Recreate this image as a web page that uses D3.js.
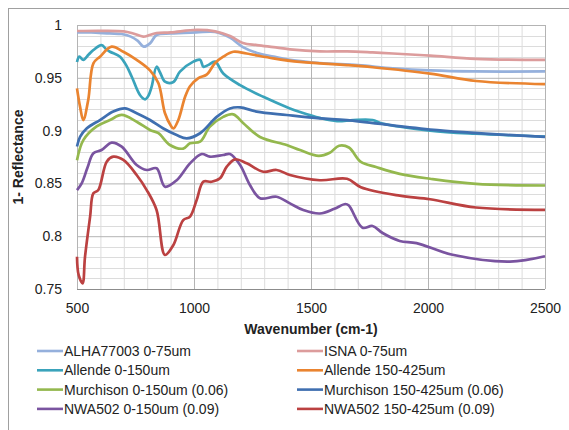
<!DOCTYPE html>
<html>
<head>
<meta charset="utf-8">
<script src="https://cdn.jsdelivr.net/npm/d3@7"></script>
<style>
  body { margin: 0; background: #fff; }
  svg { display: block; font-family: "Liberation Sans", Arial, sans-serif; }
</style>
</head>
<body>
<div id="chart"></div>
<script>
// Reflectance spectra, [wavenumber, 1 - reflectance]
const alha77003 = [[500,0.993],[560,0.993],[640,0.992],[690,0.9915],[730,0.989],[760,0.985],[785,0.9795],[812,0.9826],[840,0.9905],[900,0.992],[1010,0.993],[1090,0.9935],[1154,0.988],[1209,0.979],[1269,0.9735],[1340,0.970],[1410,0.967],[1538,0.964],[1700,0.962],[1850,0.959],[2009,0.957],[2200,0.956],[2500,0.956]];
const isna = [[500,0.9943],[600,0.9945],[700,0.994],[740,0.992],[783,0.989],[810,0.9905],[840,0.9924],[900,0.993],[1011,0.9953],[1090,0.994],[1154,0.9896],[1209,0.983],[1269,0.981],[1340,0.979],[1410,0.977],[1538,0.975],[1654,0.975],[1763,0.974],[1850,0.973],[2009,0.971],[2205,0.968],[2500,0.967]];
const allende0150 = [[500,0.965],[510,0.970],[527,0.967],[550,0.972],[570,0.9763],[605,0.981],[625,0.977],[641,0.9747],[684,0.970],[710,0.962],[734,0.951],[769,0.9337],[791,0.9296],[805,0.933],[819,0.9416],[840,0.9605],[855,0.955],[876,0.9463],[912,0.946],[940,0.9558],[997,0.9653],[1026,0.967],[1040,0.9605],[1060,0.962],[1090,0.9653],[1125,0.954],[1197,0.943],[1296,0.932],[1410,0.921],[1453,0.9176],[1538,0.912],[1611,0.909],[1680,0.910],[1763,0.910],[1800,0.907],[2009,0.900],[2200,0.897],[2500,0.8944]];
const allende150425 = [[500,0.940],[513,0.9227],[527,0.910],[548,0.929],[570,0.9637],[598,0.970],[648,0.9795],[698,0.9747],[755,0.967],[812,0.957],[848,0.9448],[876,0.9164],[900,0.905],[912,0.902],[933,0.910],[962,0.932],[983,0.942],[1019,0.9498],[1054,0.953],[1090,0.964],[1125,0.970],[1168,0.9747],[1225,0.973],[1339,0.9684],[1453,0.965],[1538,0.9637],[1654,0.962],[1763,0.960],[2009,0.954],[2205,0.947],[2500,0.944]];
const murchison0150 = [[500,0.872],[527,0.891],[584,0.904],[641,0.910],[691,0.9148],[755,0.9084],[812,0.9006],[848,0.8975],[897,0.8864],[954,0.883],[983,0.888],[1026,0.8895],[1068,0.9037],[1125,0.913],[1168,0.9154],[1211,0.907],[1282,0.894],[1396,0.8864],[1453,0.8816],[1533,0.876],[1580,0.879],[1620,0.8857],[1662,0.884],[1713,0.8704],[1778,0.8655],[1879,0.859],[2009,0.8544],[2205,0.8495],[2500,0.848]];
const murchison150425 = [[500,0.885],[513,0.894],[541,0.902],[598,0.910],[655,0.918],[705,0.921],[755,0.9164],[812,0.910],[869,0.902],[926,0.8958],[969,0.8927],[1026,0.8975],[1097,0.913],[1154,0.921],[1197,0.922],[1268,0.918],[1396,0.9148],[1538,0.9116],[1654,0.910],[2009,0.901],[2500,0.894]];
const nwa5020150 = [[500,0.8437],[520,0.850],[545,0.865],[570,0.8785],[605,0.8816],[648,0.8886],[691,0.8848],[755,0.8674],[798,0.8627],[840,0.8643],[876,0.8469],[926,0.853],[983,0.869],[1033,0.8778],[1068,0.8753],[1125,0.8769],[1154,0.8778],[1197,0.8674],[1239,0.8485],[1282,0.8359],[1353,0.8374],[1410,0.8311],[1467,0.8248],[1538,0.8215],[1600,0.826],[1647,0.8305],[1662,0.829],[1720,0.808],[1763,0.8097],[1806,0.803],[1879,0.7955],[1951,0.7935],[2105,0.7824],[2350,0.776],[2500,0.781]];
const nwa502150425 = [[500,0.7806],[507,0.7633],[524,0.7554],[534,0.780],[556,0.8185],[570,0.8406],[591,0.8437],[627,0.8706],[655,0.8753],[698,0.8722],[755,0.858],[798,0.8437],[840,0.8248],[876,0.7822],[912,0.7917],[954,0.8153],[983,0.8185],[1011,0.834],[1040,0.8516],[1075,0.8516],[1111,0.8548],[1140,0.8658],[1175,0.8728],[1225,0.869],[1296,0.861],[1353,0.8627],[1410,0.858],[1538,0.853],[1654,0.8544],[1713,0.8464],[1879,0.8384],[2009,0.835],[2205,0.8272],[2500,0.825]];

const seriesNames = ['ALHA77003 0-75um', 'ISNA 0-75um', 'Allende 0-150um', 'Allende 150-425um',
  'Murchison 0-150um (0.06)', 'Murchison 150-425um (0.06)', 'NWA502 0-150um (0.09)', 'NWA502 150-425um (0.09)'];
const seriesData = [alha77003, isna, allende0150, allende150425, murchison0150, murchison150425, nwa5020150, nwa502150425];
const seriesColors = ['#95b0dc', '#dc9c9c', '#3aa3bb', '#ea8430', '#94b84e', '#3f6fb0', '#7a54a0', '#bb4141'];

const xTicks = [500, 1000, 1500, 2000, 2500];
const yTicks = [0.75, 0.8, 0.85, 0.9, 0.95, 1];

const width = 569, height = 430;
const margin = {top: 25, right: 24, bottom: 141, left: 77};
const plotW = width - margin.left - margin.right;
const plotH = height - margin.top - margin.bottom;

const svg = d3.select('#chart').append('svg')
    .attr('width', width)
    .attr('height', height);

// outer chart frame
svg.append('rect')
    .attr('x', 8.5).attr('y', 8.5)
    .attr('width', 600).attr('height', 500)
    .attr('fill', 'none')
    .attr('stroke', '#a0a0a0');

const g = svg.append('g')
    .attr('transform', `translate(${margin.left}, ${margin.top})`);

const x = d3.scaleLinear().domain([500, 2500]).range([0, plotW]);
const y = d3.scaleLinear().domain([0.75, 1]).range([plotH, 0]);

// minor grid
g.append('g')
    .selectAll('line')
    .data(d3.range(600, 2500, 100).filter(d => d % 500 !== 0))
    .join('line')
    .attr('x1', d => x(d) + 0.5).attr('x2', d => x(d) + 0.5)
    .attr('y1', 0).attr('y2', plotH)
    .attr('stroke', '#dcdcdc');
g.append('g')
    .selectAll('line')
    .data(d3.range(1, 25).map(i => 0.75 + i * 0.01).filter(d => Math.round(d * 100) % 5 !== 0))
    .join('line')
    .attr('x1', 0).attr('x2', plotW)
    .attr('y1', d => Math.round(y(d)) + 0.5).attr('y2', d => Math.round(y(d)) + 0.5)
    .attr('stroke', '#dcdcdc');

// major grid
g.append('g')
    .attr('class', 'grid')
    .attr('transform', `translate(0, ${plotH})`)
    .call(d3.axisBottom(x).tickValues(xTicks).tickSize(-plotH).tickFormat(''))
    .call(s => s.select('.domain').remove())
    .selectAll('line').attr('stroke', '#b4b4b4');
g.append('g')
    .attr('class', 'grid')
    .call(d3.axisLeft(y).tickValues(yTicks).tickSize(-plotW).tickFormat(''))
    .call(s => s.select('.domain').remove())
    .selectAll('line').attr('stroke', '#b4b4b4');

// bottom axis line
g.append('line')
    .attr('x1', 0).attr('x2', plotW)
    .attr('y1', plotH + 0.5).attr('y2', plotH + 0.5)
    .attr('stroke', '#8c8c8c');

// tick labels
const xAxis = g.append('g')
    .attr('transform', `translate(0, ${plotH})`)
    .call(d3.axisBottom(x).tickValues(xTicks).tickSize(0).tickPadding(14).tickFormat(d3.format('d')));
xAxis.select('.domain').remove();
xAxis.selectAll('text').attr('font-size', '14px').attr('fill', '#222').attr('font-family', 'Liberation Sans, Arial');

const yAxis = g.append('g')
    .call(d3.axisLeft(y).tickValues(yTicks).tickSize(0).tickPadding(15).tickFormat(d => d === 1 ? '1' : d3.format('.2~f')(d)));
yAxis.select('.domain').remove();
yAxis.selectAll('text').attr('font-size', '14px').attr('fill', '#222').attr('font-family', 'Liberation Sans, Arial');

// axis titles
g.append('text')
    .attr('x', plotW / 2).attr('y', plotH + 45)
    .attr('text-anchor', 'middle')
    .attr('font-size', '14px').attr('font-weight', 'bold').attr('fill', '#222')
    .text('Wavenumber (cm-1)');
g.append('text')
    .attr('transform', 'rotate(-90)')
    .attr('x', -plotH / 2).attr('y', -54)
    .attr('text-anchor', 'middle')
    .attr('font-size', '14px').attr('font-weight', 'bold').attr('fill', '#222')
    .text('1- Reflectance');

// spectra
const line = d3.line()
    .x(d => x(d[0]))
    .y(d => y(d[1]))
    .curve(d3.curveCatmullRom.alpha(0.5));

g.append('g')
    .selectAll('path')
    .data(seriesData)
    .join('path')
    .attr('d', line)
    .attr('fill', 'none')
    .attr('stroke', (d, i) => seriesColors[i])
    .attr('stroke-width', 2.7)
    .attr('stroke-linejoin', 'round');

// legend, two columns, row-wise
const legend = svg.append('g');
const items = legend.selectAll('g')
    .data(seriesNames)
    .join('g')
    .attr('transform', (d, i) => `translate(${i % 2 === 0 ? 37 : 297}, ${351 + Math.floor(i / 2) * 19.3})`);
items.append('line')
    .attr('x1', 0).attr('x2', 26)
    .attr('stroke', (d, i) => seriesColors[i])
    .attr('stroke-width', 2.6);
items.append('text')
    .attr('x', 27).attr('dy', '0.35em')
    .attr('font-size', '14px').attr('fill', '#222')
    .text(d => d);
</script>
</body>
</html>
